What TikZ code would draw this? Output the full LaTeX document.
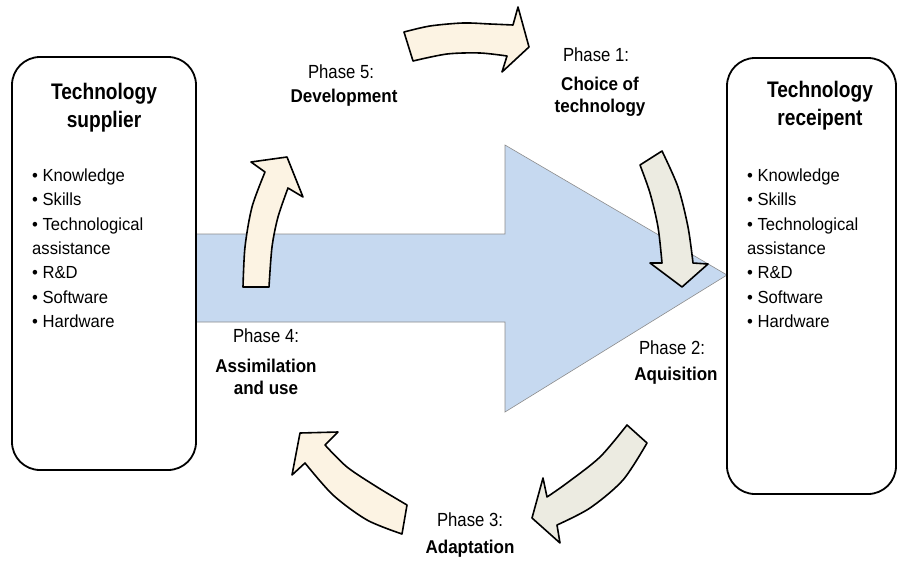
\documentclass[tikz,border=0pt]{standalone}
\usepackage{fontspec}
\setmainfont{Liberation Sans}
\newfontfamily\fhead{Liberation Sans}[FakeStretch=0.85]
\newfontfamily\fbody{Liberation Sans}[FakeStretch=0.95]
\newfontfamily\fphase{Liberation Sans}[FakeStretch=0.88]
\newfontfamily\fname{Liberation Sans}[FakeStretch=0.92]
\definecolor{cream}{HTML}{FCF3E3}
\definecolor{greyb}{HTML}{ECEBE1}
\definecolor{lblue}{HTML}{C6D9F0}
\tikzset{
  actor/.style={draw=black, line width=1.8pt, rounded corners=28pt, fill=white},
  head/.style={font=\fhead\bfseries\fontsize{22.5}{28}\selectfont, align=center, inner sep=0pt},
  blist/.style={font=\fbody\fontsize{17.5}{24.4}\selectfont, align=left, inner sep=0pt, anchor=north west},
  phase/.style={font=\fphase\fontsize{19}{22}\selectfont, inner sep=0pt},
  pname/.style={font=\fname\bfseries\fontsize{18.5}{22}\selectfont, align=center, inner sep=0pt},
  warm/.style={fill=cream, draw=black, line width=1.6pt, line join=round},
  cool/.style={fill=greyb, draw=black, line width=1.6pt, line join=round},
  flow/.style={fill=lblue, draw=black!45, line width=0.6pt}
}
\begin{document}
\begin{tikzpicture}[x=1pt, y=-1pt]
\useasboundingbox (0,0) rectangle (899,562);
% big transfer arrow
\filldraw[flow] (190,234) -- (505,234) -- (505,145) -- (727,275) -- (505,412) -- (505,322) -- (190,322) -- cycle;
% boxes
\node[actor, minimum width=184pt, minimum height=413pt] (sup) at (104,263.5) {};
\node[actor, minimum width=169pt, minimum height=436pt] (rec) at (811.5,276) {};
\node[head] (suph) at (104,107.5) {Technology\\supplier};
\node[head] (rech) at (820,105.5) {Technology\\receipent};
\node[blist] (supl) at (32,168.5) {• Knowledge\\• Skills\\• Technological\\assistance\\• R\&D\\• Software\\• Hardware};
\node[blist] (recl) at (747,168.5) {• Knowledge\\• Skills\\• Technological\\assistance\\• R\&D\\• Software\\• Hardware};
% cycle arrows
\filldraw[warm] plot[smooth] coordinates {(404,32) (430,26) (463,23) (490,24) (513,25)} -- (518,7) -- (529,47) -- (502,72) -- plot[smooth] coordinates {(507,56) (480,53) (447,54) (413,61)} -- cycle;
\filldraw[cool] (640,165) -- plot[smooth] coordinates {(662,151) (678,187) (688,227) (693,263)} -- (708,264) -- (682,287) -- (650,263) -- plot[smooth] coordinates {(662,263) (658,227) (650,193) (640,165)} -- cycle;
\filldraw[cool] (627,425) -- plot[smooth] coordinates {(647,443) (623,480) (590,508) (557,525)} -- (560,543) -- (532,518) -- (543,478) -- plot[smooth] coordinates {(547,497) (567,483) (600,457) (627,425)} -- cycle;
\filldraw[warm] (402,534) -- plot[smooth] coordinates {(407,505) (377,487) (347,467) (325,445)} -- (338,432) -- (300,433) -- (292,475) -- plot[smooth] coordinates {(305,463) (333,495) (367,520) (402,534)} -- cycle;
\filldraw[warm] (243,287) -- plot[smooth] coordinates {(269,287) (272,247) (278,217) (288,188)} -- (303,197) -- (287,157) -- (251,162) -- plot[smooth] coordinates {(265,172) (252,207) (245,247) (243,287)} -- cycle;
% phase labels
\node[phase] (p5) at (341,72) {Phase 5:};
\node[pname] (n5) at (344,98) {Development};
\node[phase] (p1) at (596,55) {Phase 1:};
\node[pname] (n1) at (600,97) {Choice of\\technology};
\node[phase] (p2) at (672,348) {Phase 2:};
\node[pname] (n2) at (676,376) {Aquisition};
\node[phase] (p3) at (470,520) {Phase 3:};
\node[pname] (n3) at (470,549) {Adaptation};
\node[phase] (p4) at (266,336) {Phase 4:};
\node[pname] (n4) at (266,377) {Assimilation\\and use};
\end{tikzpicture}
\end{document}
